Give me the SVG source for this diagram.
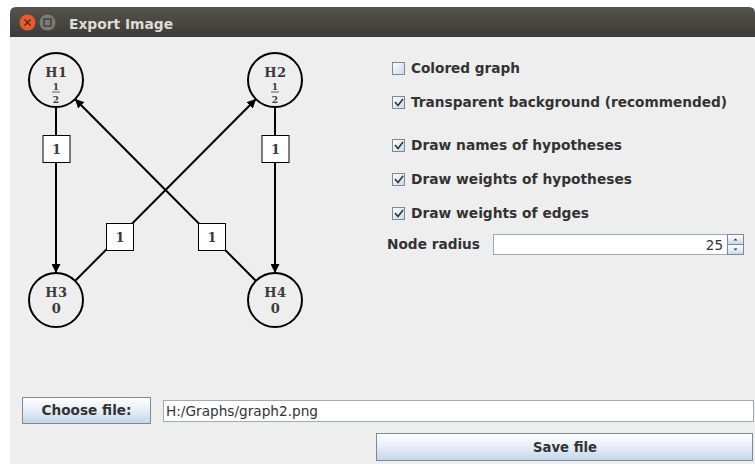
<svg xmlns="http://www.w3.org/2000/svg" width="755" height="464" viewBox="0 0 755 464">
<defs>
<linearGradient id="tb" x1="0" y1="0" x2="0" y2="1"><stop offset="0" stop-color="#55534d"/><stop offset="1" stop-color="#3c3b37"/></linearGradient>
<linearGradient id="btn" x1="0" y1="0" x2="0" y2="1"><stop offset="0" stop-color="#ffffff"/><stop offset="0.5" stop-color="#e6eef7"/><stop offset="1" stop-color="#c3d5e8"/></linearGradient>
<linearGradient id="cb" x1="0" y1="0" x2="1" y2="1"><stop offset="0" stop-color="#ffffff"/><stop offset="1" stop-color="#c8d8e8"/></linearGradient>
<marker id="arr" viewBox="0 0 10 10" refX="10" refY="5" markerWidth="9" markerHeight="9" markerUnits="userSpaceOnUse" orient="auto"><path d="M0,0 L10,5 L0,10 Z" fill="#000"/></marker>
<g id="chk"><rect x="0.5" y="0.5" width="12" height="12" fill="url(#cb)" stroke="#7a8a99"/></g>
</defs>
<style>
.node circle{fill:none;stroke:#000;stroke-width:2}
.nm{font-family:"DejaVu Serif",serif;font-weight:bold;font-size:13px;fill:#3a3a3a;text-anchor:middle;letter-spacing:0.5px}
.fr{font-family:"DejaVu Serif",serif;font-weight:bold;font-size:9px;fill:#3a3a3a;text-anchor:middle}
.lbl rect{fill:#fff;stroke:#000;stroke-width:1}
.lbl text{font-family:"DejaVu Serif",serif;font-weight:bold;font-size:13px;fill:#3a3a3a;text-anchor:middle}
.edge{stroke:#000;stroke-width:2;fill:none}
.ui{font-family:"DejaVu Sans",sans-serif;font-weight:bold;font-size:13.5px;fill:#333}
.tf{font-family:"DejaVu Sans",sans-serif;font-size:13.5px;fill:#333}
.mk{fill:none;stroke:#333;stroke-width:1.6}
</style>
<rect width="755" height="464" fill="#ffffff"/>
<g id="window">
<path d="M10,37 L10,13 Q10,7 16,7 L749,7 Q755,7 755,13 L755,37 Z" fill="url(#tb)"/>
<rect x="10" y="37" width="745" height="427" fill="#eeeeee"/>
<circle cx="27.5" cy="22.5" r="8" fill="#e65a2c"/>
<path d="M24.5,19.5 L30.5,25.5 M30.5,19.5 L24.5,25.5" stroke="#5a2a18" stroke-width="1.5"/>
<circle cx="47.5" cy="22.5" r="8" fill="#7b7a75"/>
<rect x="44" y="19" width="7" height="7" fill="none" stroke="#3c3b37" stroke-width="1.3"/>
<text x="69" y="29" font-family="DejaVu Sans, sans-serif" font-weight="bold" font-size="14.5" fill="#dfdbd2" textLength="104" lengthAdjust="spacingAndGlyphs">Export Image</text>
</g>
<g id="connectors">
<line class="edge" x1="56" y1="107" x2="56" y2="273" marker-end="url(#arr)"/>
<line class="edge" x1="275" y1="107" x2="275" y2="273" marker-end="url(#arr)"/>
<line class="edge" x1="75" y1="281" x2="256" y2="99" marker-end="url(#arr)"/>
<line class="edge" x1="256" y1="281" x2="75" y2="99" marker-end="url(#arr)"/>
<g class="lbl"><rect x="43" y="135.5" width="27" height="27"/><text x="56.5" y="154">1</text></g>
<g class="lbl"><rect x="262" y="135.5" width="27" height="27"/><text x="275.5" y="154">1</text></g>
<g class="lbl"><rect x="106.5" y="223.5" width="27" height="27"/><text x="120" y="242">1</text></g>
<g class="lbl"><rect x="198.5" y="223.5" width="27" height="27"/><text x="212" y="242">1</text></g>
</g>
<g id="H1" class="node"><circle cx="56" cy="80" r="27"/><text class="nm" x="56.5" y="77">H1</text><text class="fr" x="56" y="89.5">1</text><line x1="52" y1="92" x2="60" y2="92" stroke="#333" stroke-width="0.8"/><text class="fr" x="56" y="102.5">2</text></g>
<g id="H2" class="node"><circle cx="275" cy="80" r="27"/><text class="nm" x="275.5" y="77">H2</text><text class="fr" x="275" y="89.5">1</text><line x1="271" y1="92" x2="279" y2="92" stroke="#333" stroke-width="0.8"/><text class="fr" x="275" y="102.5">2</text></g>
<g id="H3" class="node"><circle cx="56" cy="300" r="27"/><text class="nm" x="56.5" y="297">H3</text><text class="nm" x="56.5" y="313">0</text></g>
<g id="H4" class="node"><circle cx="275" cy="300" r="27"/><text class="nm" x="275.5" y="297">H4</text><text class="nm" x="275.5" y="313">0</text></g>
<g id="options">
<use href="#chk" x="392" y="62"/>
<text class="ui" x="411" y="73" textLength="109" lengthAdjust="spacingAndGlyphs">Colored graph</text>
<use href="#chk" x="392" y="96"/><path class="mk" d="M395,102 L398,105.5 L403,99"/>
<text class="ui" x="411" y="107" textLength="316" lengthAdjust="spacingAndGlyphs">Transparent background (recommended)</text>
<use href="#chk" x="392" y="139"/><path class="mk" d="M395,145 L398,148.5 L403,142"/>
<text class="ui" x="411" y="150" textLength="211" lengthAdjust="spacingAndGlyphs">Draw names of hypotheses</text>
<use href="#chk" x="392" y="173"/><path class="mk" d="M395,179 L398,182.5 L403,176"/>
<text class="ui" x="411" y="184" textLength="221" lengthAdjust="spacingAndGlyphs">Draw weights of hypotheses</text>
<use href="#chk" x="392" y="207"/><path class="mk" d="M395,213 L398,216.5 L403,210"/>
<text class="ui" x="411" y="218" textLength="178" lengthAdjust="spacingAndGlyphs">Draw weights of edges</text>
<text class="ui" x="387" y="249" textLength="93" lengthAdjust="spacingAndGlyphs">Node radius</text>
<rect x="493.5" y="234.5" width="234" height="20" fill="#fff" stroke="#a0aab8"/>
<text class="tf" x="723" y="250" text-anchor="end">25</text>
<rect x="727.5" y="234.5" width="16" height="10" fill="url(#btn)" stroke="#7a8a99"/>
<rect x="727.5" y="244.5" width="16" height="10" fill="url(#btn)" stroke="#7a8a99"/>
<path d="M733.5,240.5 L735.5,238.5 L737.5,240.5 Z M733.5,248.5 L735.5,250.5 L737.5,248.5 Z" fill="#333"/>
</g>
<g id="file">
<rect x="22.5" y="397.5" width="128" height="26" fill="url(#btn)" stroke="#7a8a99"/>
<text class="ui" x="86.5" y="415" text-anchor="middle" textLength="90" lengthAdjust="spacingAndGlyphs">Choose file:</text>
<rect x="163.5" y="400.5" width="590" height="21" fill="#fff" stroke="#a0aab8"/>
<text class="tf" x="166" y="415.5" textLength="152" lengthAdjust="spacingAndGlyphs">H:/Graphs/graph2.png</text>
<rect x="376.5" y="433.5" width="376" height="27" fill="url(#btn)" stroke="#7a8a99"/>
<text class="ui" x="565" y="452" text-anchor="middle" textLength="64" lengthAdjust="spacingAndGlyphs">Save file</text>
</g>
</svg>
